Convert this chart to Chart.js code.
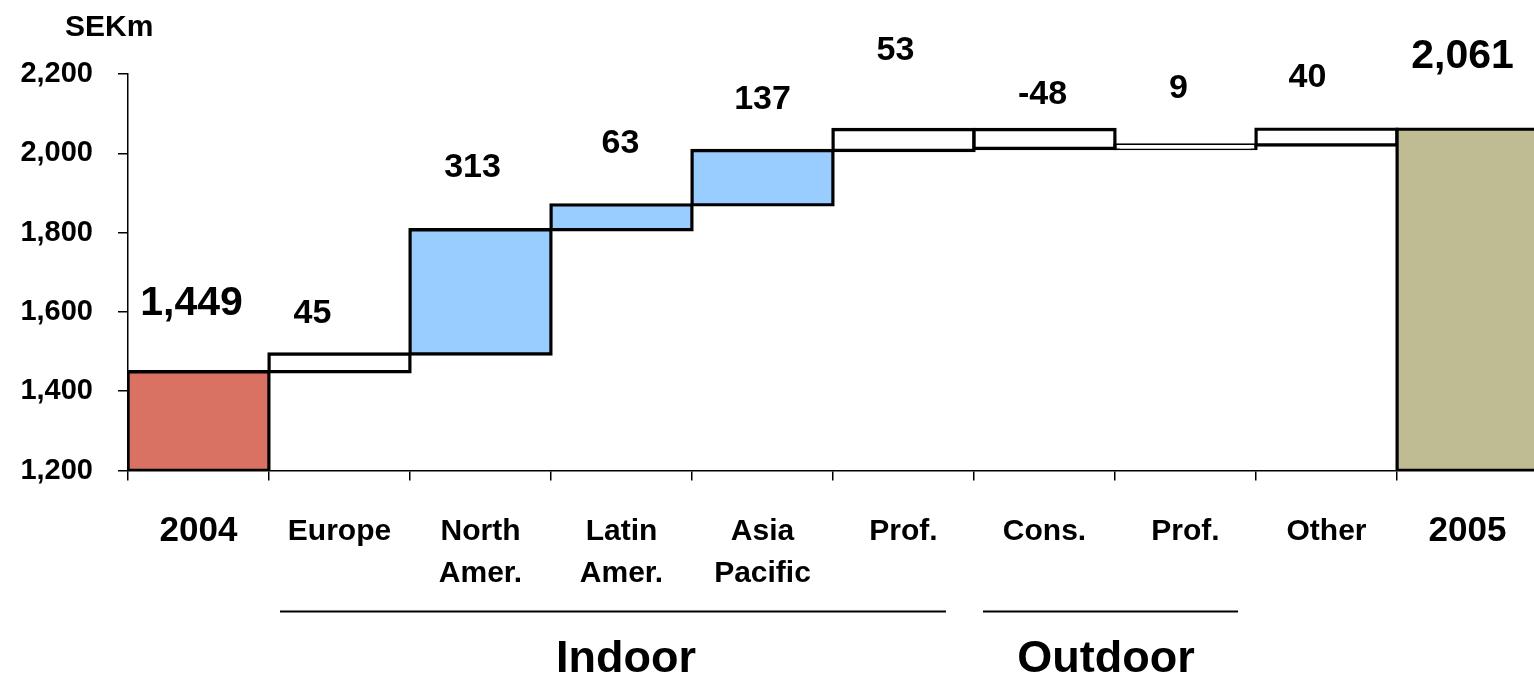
<!DOCTYPE html>
<html>
<head>
<meta charset="utf-8">
<title>Sales bridge 2004–2005</title>
<script src="https://cdn.jsdelivr.net/npm/chart.js@4.4.1/dist/chart.umd.min.js"></script>
<style>
  html, body { margin: 0; padding: 0; background: #ffffff; overflow: hidden; }
  #wrap { position: absolute; left: 0; top: 0; width: 1538px; height: 677px; }
</style>
</head>
<body>
<div id="wrap"><canvas id="bridge"></canvas></div>
<script>
// ---- data -------------------------------------------------------------
const categories = [['2004'], ['Europe'], ['North', 'Amer.'], ['Latin', 'Amer.'], ['Asia', 'Pacific'],
                    ['Prof.'], ['Cons.'], ['Prof.'], ['Other'], ['2005']];
const openingSales = 1449;
const changes = [45, 313, 63, 137, 53, -48, 9, 40];
const closingSales = 2061;
const axisMin = 1200;
const axisMax = 2200;
const yTickValues = [1200, 1400, 1600, 1800, 2000, 2200];
const unitLabel = 'SEKm';
const groupNames = ['Indoor', 'Outdoor'];
const groupFirst = [1, 6];
const groupLast = [5, 7];

// ---- floating ranges for the bridge ----------------------------------
const ranges = [[axisMin, openingSales]];
let running = openingSales;
changes.forEach(c => {
  ranges.push([running, running + c]);
  running += c;
});
ranges.push([axisMin, closingSales]);

const valueTexts = [openingSales, ...changes, closingSales].map(v => v.toLocaleString('en-US'));

const FONT = "'Liberation Sans', Arial, Helvetica, sans-serif";

// ---- plugins -----------------------------------------------------------
const valueLabels = {
  id: 'valueLabels',
  afterDatasetsDraw(chart, args, opts) {
    const ctx = chart.ctx;
    const bars = chart.getDatasetMeta(0).data;
    ctx.save();
    ctx.fillStyle = '#000';
    ctx.textAlign = 'center';
    ctx.textBaseline = 'alphabetic';
    bars.forEach((bar, i) => {
      const top = Math.min(bar.y, bar.base);
      const [dx, dy] = opts.offsets[i];
      const big = i === 0 || i === bars.length - 1;
      ctx.font = `bold ${big ? opts.bigSize : opts.size}px ${FONT}`;
      ctx.fillText(valueTexts[i], bar.x + dx, top + dy);
    });
    ctx.restore();
  }
};

const groupBrackets = {
  id: 'groupBrackets',
  afterDraw(chart, args, opts) {
    const ctx = chart.ctx;
    const x = chart.scales.x;
    const area = chart.chartArea;
    const step = x.getPixelForValue(1) - x.getPixelForValue(0);
    ctx.save();
    ctx.strokeStyle = '#000';
    ctx.fillStyle = '#000';
    ctx.lineWidth = opts.lineWidth;
    ctx.textAlign = 'center';
    ctx.textBaseline = 'alphabetic';
    ctx.font = `bold ${opts.size}px ${FONT}`;
    groupNames.forEach((name, g) => {
      const left = x.getPixelForValue(groupFirst[g]) - step / 2;
      const right = x.getPixelForValue(groupLast[g]) + step / 2;
      const [inL, inR] = opts.insets[g];
      const ly = area.bottom + opts.lineOffset;
      ctx.beginPath();
      ctx.moveTo(left + inL, ly);
      ctx.lineTo(right - inR, ly);
      ctx.stroke();
      ctx.fillText(name, (left + right) / 2 + opts.textDx[g], area.bottom + opts.textOffset);
    });
    ctx.restore();
  }
};

const unitTitle = {
  id: 'unitTitle',
  afterDraw(chart, args, opts) {
    const ctx = chart.ctx;
    const area = chart.chartArea;
    ctx.save();
    ctx.fillStyle = '#000';
    ctx.textAlign = 'left';
    ctx.textBaseline = 'alphabetic';
    ctx.font = `bold ${opts.size}px ${FONT}`;
    ctx.fillText(unitLabel, area.left + opts.dx, area.top + opts.dy);
    ctx.restore();
  }
};

// ---- chart -------------------------------------------------------------
new Chart(document.getElementById('bridge'), {
  type: 'bar',
  data: {
    labels: categories,
    datasets: [{
      data: ranges,
      backgroundColor: ['#D97262', '#FFFFFF', '#99CCFF', '#99CCFF', '#99CCFF',
                        '#FFFFFF', '#FFFFFF', '#FFFFFF', '#FFFFFF', '#BFBC94'],
      borderColor: '#000000',
      borderWidth: 3.4,
      borderSkipped: false,
      inflateAmount: 1.7,
      barPercentage: 1,
      categoryPercentage: 1
    }]
  },
  options: {
    responsive: true,
    maintainAspectRatio: false,
    animation: false,
    events: [],
    layout: { padding: { top: 74, left: 0, right: 0, bottom: 0 } },
    plugins: {
      legend: { display: false },
      tooltip: { enabled: false },
      valueLabels: {
        size: 34,
        bigSize: 41,
        offsets: [[-7, -57], [-27, -31], [-8, -52.5], [-1, -52], [0, -41.5],
                  [-8, -69.5], [-2, -26], [-7, -47], [-19, -42.5], [-5, -61.5]]
      },
      groupBrackets: {
        size: 45,
        lineWidth: 1.8,
        lineOffset: 141,
        textOffset: 201.5,
        insets: [[11, 28], [9, 18]],
        textDx: [4.5, -9]
      },
      unitTitle: { size: 30, dx: -63, dy: -38 }
    },
    scales: {
      x: {
        offset: true,
        grid: {
          offset: true,
          drawOnChartArea: false,
          drawTicks: true,
          tickLength: 10,
          color: '#000',
          lineWidth: 1.5
        },
        border: { display: true, color: '#000', width: 1.5 },
        ticks: {
          color: '#000',
          padding: 30,
          autoSkip: false,
          maxRotation: 0,
          minRotation: 0,
          font: (c) => ({
            family: FONT,
            weight: 'bold',
            size: (c.index === 0 || c.index === categories.length - 1) ? 35 : 30,
            lineHeight: '42px'
          })
        },
        afterFit(scale) { scale.height = 206.5; }
      },
      y: {
        min: axisMin,
        max: axisMax,
        afterBuildTicks(scale) { scale.ticks = yTickValues.map(v => ({ value: v })); },
        grid: {
          drawOnChartArea: false,
          drawTicks: true,
          tickLength: 10,
          color: '#000',
          lineWidth: 1.5
        },
        border: { display: true, color: '#000', width: 1.5 },
        ticks: {
          color: '#000',
          padding: 25,
          font: { family: FONT, weight: 'bold', size: 29 },
          callback: (v) => Number(v).toLocaleString('en-US')
        },
        afterFit(scale) { scale.width = 128; }
      }
    }
  },
  plugins: [valueLabels, groupBrackets, unitTitle]
});
</script>
</body>
</html>
